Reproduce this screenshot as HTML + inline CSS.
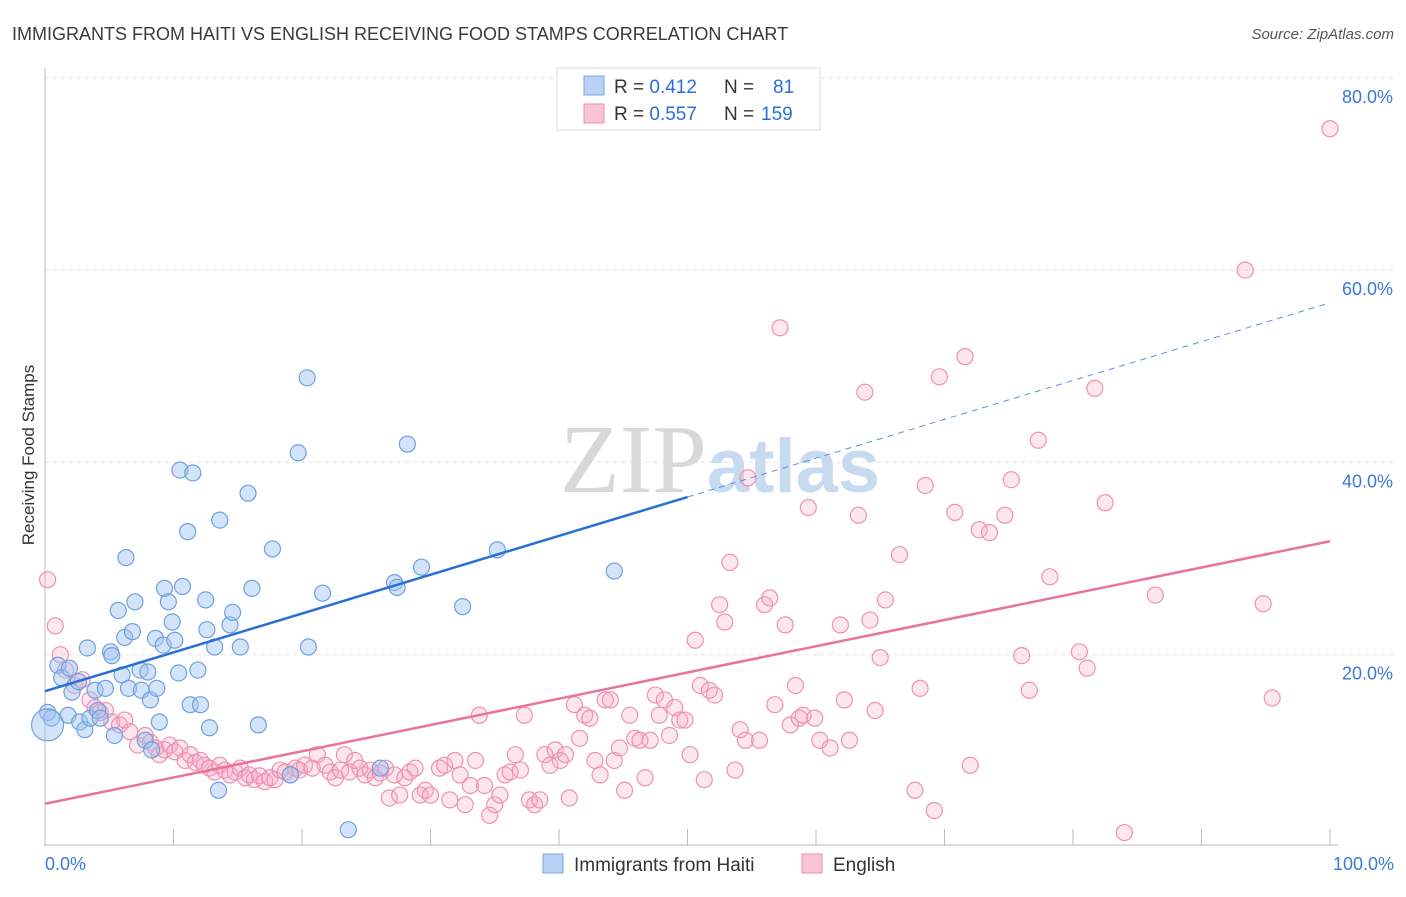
<!DOCTYPE html>
<html><head><meta charset="utf-8"><style>
body{margin:0;background:#fff;font-family:"Liberation Sans",sans-serif;}
svg text{font-family:"Liberation Sans",sans-serif;}
</style></head><body>
<svg id="chart" width="1406" height="892">
<text x="12" y="40" font-size="18" fill="#3a3a3a">IMMIGRANTS FROM HAITI VS ENGLISH RECEIVING FOOD STAMPS CORRELATION CHART</text>
<text x="1394" y="39" font-size="15" fill="#555" font-style="italic" text-anchor="end">Source: ZipAtlas.com</text>
<text x="34" y="455" font-size="17" fill="#333" text-anchor="middle" transform="rotate(-90 34 455)">Receiving Food Stamps</text>
<g id="grid"></g>
<g id="axes"></g>
<text x="720" y="492" font-size="98" fill="#ddd" text-anchor="middle"><tspan font-family="Liberation Serif" fill="#d8d8d8">ZIP</tspan><tspan fill="#c8daf0" font-weight="bold" font-size="76">atlas</tspan></text>
<g id="pink"></g>
<g id="blue"></g>
<g id="trends"></g>
<g>
<rect x="557" y="68" width="263" height="62" fill="#fff" stroke="#ddd"/>
<rect x="584" y="76" width="20" height="19" fill="#b8d2f4" stroke="#7aa6e0"/>
<rect x="584" y="104" width="20" height="19" fill="#f8c4d6" stroke="#f08cb0"/>
<text x="614" y="93" font-size="19" fill="#333">R = <tspan fill="#2a6fd6">0.412</tspan><tspan x="724">N = </tspan><tspan x="773" fill="#2a6fd6">81</tspan></text>
<text x="614" y="120" font-size="19" fill="#333">R = <tspan fill="#2a6fd6">0.557</tspan><tspan x="724">N = </tspan><tspan x="761" fill="#2a6fd6">159</tspan></text>
</g>
<g>
<rect x="543" y="854" width="20" height="19" fill="#b8d2f4" stroke="#7aa6e0"/>
<text x="574" y="871" font-size="19" fill="#333">Immigrants from Haiti</text>
<rect x="802" y="854" width="20" height="19" fill="#f8c4d6" stroke="#f08cb0"/>
<text x="833" y="871" font-size="19" fill="#333">English</text>
</g>
</svg>
<script>
const yTicks=[20,40,60,80];
const yTickLabels=["20.0%","40.0%","60.0%","80.0%"];
const xTickLabels=["0.0%","100.0%"];
const blueX=[0.2,0.5,1.0,1.3,1.8,1.9,2.1,2.6,2.7,3.1,3.3,3.5,3.9,4.1,4.3,4.7,5.1,5.2,5.4,5.7,6.0,6.2,6.3,6.5,6.8,7.0,7.4,7.5,7.8,8.0,8.2,8.3,8.6,8.7,8.9,9.2,9.3,9.6,9.9,10.1,10.4,10.5,10.7,11.1,11.3,11.5,11.9,12.1,12.5,12.6,12.8,13.2,13.5,13.6,14.4,14.6,15.2,15.8,16.1,16.6,17.7,19.7,20.4,20.5,21.6,23.6,26.1,27.2,27.4,28.2,29.3,32.5,35.2,44.3,19.1];
const blueY=[14.0,13.4,18.9,17.6,13.7,18.6,16.1,17.2,13.0,12.2,20.7,13.4,16.3,14.2,13.4,16.5,20.3,19.9,11.6,24.6,17.9,21.8,30.1,16.5,22.4,25.5,18.4,16.3,11.1,18.2,15.3,10.1,21.7,16.5,13.0,21.0,26.9,25.5,23.4,21.5,18.1,39.2,27.1,32.8,14.8,38.9,18.4,14.8,25.7,22.6,12.4,20.8,5.9,34.0,23.1,24.4,20.8,36.8,26.9,12.7,31.0,41.0,48.8,20.8,26.4,1.8,8.2,27.5,27.0,41.9,29.1,25.0,30.9,28.7,7.5];
const pinkX=[0.2,0.8,1.2,1.6,2.3,2.9,3.5,3.9,4.3,4.7,5.2,5.8,6.2,6.6,7.2,7.8,8.2,8.6,8.9,9.3,9.7,10.1,10.5,10.9,11.3,11.7,12.1,12.4,12.8,13.2,13.6,14.0,14.4,14.8,15.2,15.6,15.9,16.3,16.7,17.1,17.5,17.9,18.3,18.7,19.1,19.5,19.8,20.2,20.8,21.2,21.8,22.2,22.6,23.0,23.3,23.7,24.1,24.5,24.9,25.3,25.7,26.1,26.5,26.8,27.2,27.6,28.0,28.4,28.8,29.2,29.6,30.0,30.7,31.1,31.5,31.9,32.3,32.7,33.1,33.5,33.8,34.2,34.6,35.0,35.4,35.8,36.2,36.6,37.0,37.3,37.7,38.1,38.5,38.9,39.3,39.7,40.1,40.5,40.8,41.2,41.6,42.0,42.4,42.8,43.2,43.6,44.0,44.3,44.7,45.1,45.5,45.9,46.3,46.7,47.1,47.5,47.8,48.2,48.6,49.0,49.4,49.8,50.2,50.6,51.0,51.3,51.7,52.1,52.5,52.9,53.3,53.7,54.1,54.5,54.7,55.6,56.0,56.4,56.8,57.2,57.6,58.0,58.4,58.7,59.0,59.4,59.9,60.3,61.1,61.9,62.2,62.6,63.3,63.8,64.2,64.6,65.0,65.4,66.5,67.7,68.1,68.5,69.2,69.6,70.8,71.6,72.0,72.7,73.5,74.7,75.2,76.0,76.6,77.3,78.2,80.5,81.1,81.7,82.5,84.0,86.4,93.4,94.8,95.5,100.0];
const pinkY=[27.8,23.0,20.0,18.4,16.8,17.4,15.3,14.5,14.0,14.2,13.0,12.7,13.2,12.0,10.6,11.6,10.9,10.3,9.6,10.1,10.6,9.9,10.3,9.0,9.6,8.8,9.0,8.5,8.2,7.8,8.5,8.0,7.5,7.8,8.2,7.2,7.5,7.0,7.4,6.8,7.2,7.0,8.0,7.8,7.5,8.2,8.0,8.5,8.2,9.6,8.5,7.8,7.2,8.0,9.6,7.8,9.0,8.2,7.5,8.0,7.2,7.7,8.2,5.1,7.5,5.4,7.2,7.8,8.2,5.4,5.9,5.4,8.2,8.5,4.9,9.0,7.5,4.4,6.4,9.0,13.7,6.4,3.3,4.4,5.4,7.5,7.8,9.6,8.0,13.7,4.9,4.4,4.9,9.6,8.5,10.1,9.0,9.6,5.1,14.8,11.3,13.7,13.4,9.0,7.5,15.3,15.3,9.0,10.3,5.9,13.7,11.3,11.1,7.2,11.1,15.8,13.7,15.3,11.6,14.5,13.2,13.2,9.6,21.5,16.8,7.0,16.3,15.8,25.2,23.4,29.6,8.0,12.2,11.1,38.4,11.1,25.2,25.9,14.8,54.0,23.1,12.7,16.8,13.4,13.7,35.3,13.4,11.1,10.3,23.1,15.3,11.1,34.5,47.3,23.6,14.2,19.7,25.7,30.4,5.9,16.5,37.6,3.8,48.9,34.8,51.0,8.5,33.0,32.7,34.5,38.2,19.9,16.3,42.3,28.1,20.3,18.6,47.7,35.8,1.5,26.2,60.0,25.3,15.5,74.7];
const blueTrend=[[0,16.2],[50,36.4],[100,56.6]];
const pinkTrend=[[0,4.5],[100,31.8]];
const NS="http://www.w3.org/2000/svg";
const X0=45,X1=1330,Y0=847,YPER=9.615;
const sx=v=>X0+(X1-X0)*v/100, sy=v=>Y0-v*YPER;
function mk(tag,attrs,parent){const e=document.createElementNS(NS,tag);for(const k in attrs)e.setAttribute(k,attrs[k]);parent.appendChild(e);return e;}
const grid=document.getElementById('grid'),axes=document.getElementById('axes');
mk('line',{x1:X0,x2:1394,y1:78,y2:78,stroke:'#e2e2e2','stroke-dasharray':'4 4'},grid);
yTicks.forEach((t,i)=>{
 const l=mk('line',{x1:X0,x2:1394,y1:sy(t),y2:sy(t),stroke:'#e2e2e2','stroke-dasharray':'4 4'},grid);
 
 
 const tx=mk('text',{x:1393,y:sy(t)+25,'font-size':18,fill:'#3b78d8','text-anchor':'end'},axes);
 tx.textContent=yTickLabels[i];
 
 
});
mk('line',{x1:X0,x2:X0,y1:68,y2:847,stroke:'#bbb'},axes);
mk('line',{x1:X0,x2:X1+8,y1:845,y2:845,stroke:'#bbb'},axes);
for(let i=1;i<=10;i++){const l=mk('line',{x1:sx(i*10),x2:sx(i*10),y1:829,y2:845,stroke:'#bbb'},axes);}
const xl0=mk('text',{x:45,y:870,'font-size':18,fill:'#3b78d8'},axes);xl0.textContent=xTickLabels[0];


const xl1=mk('text',{x:1394,y:870,'font-size':18,fill:'#3b78d8','text-anchor':'end'},axes);xl1.textContent=xTickLabels[1];


const pg=document.getElementById('pink');
pinkX.forEach((x,i)=>{const c=mk('circle',{cx:sx(x),cy:sy(pinkY[i]),r:8,fill:'rgba(246,170,196,0.28)',stroke:'#f090b2','stroke-width':1.2},pg);
 
 });
const bg=document.getElementById('blue');
blueX.forEach((x,i)=>{const c=mk('circle',{cx:sx(x),cy:sy(blueY[i]),r:8,fill:'rgba(160,196,240,0.45)',stroke:'#6fa0e0','stroke-width':1.2},bg);
 
 });
const big=mk('circle',{cx:sx(0.2),cy:sy(12.7),r:16,fill:'rgba(160,196,240,0.45)',stroke:'#6fa0e0','stroke-width':1.2},bg);


const tg=document.getElementById('trends');
const b1=mk('line',{x1:sx(blueTrend[0][0]),y1:sy(blueTrend[0][1]),x2:sx(blueTrend[1][0]),y2:sy(blueTrend[1][1]),stroke:'#2a6fd6','stroke-width':2.5},tg);


const b2=mk('line',{x1:sx(blueTrend[1][0]),y1:sy(blueTrend[1][1]),x2:sx(blueTrend[2][0]),y2:sy(blueTrend[2][1]),stroke:'#5b8fdc','stroke-width':1,'stroke-dasharray':'6 5'},tg);


const p1=mk('line',{x1:sx(pinkTrend[0][0]),y1:sy(pinkTrend[0][1]),x2:sx(pinkTrend[1][0]),y2:sy(pinkTrend[1][1]),stroke:'#e8739c','stroke-width':2.5},tg);


</script>
</body></html>
